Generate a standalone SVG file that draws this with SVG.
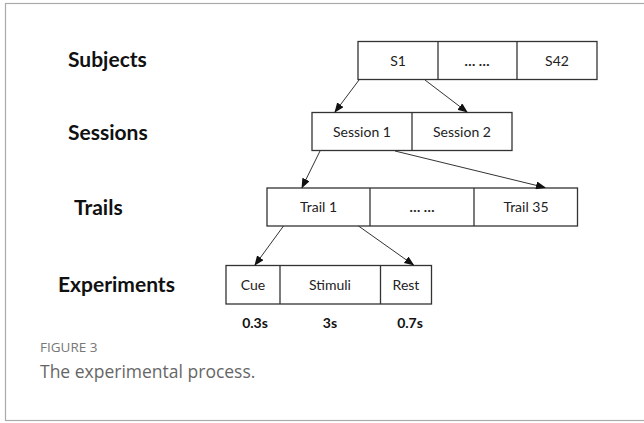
<svg xmlns="http://www.w3.org/2000/svg" width="644" height="423" viewBox="0 0 644 423">
<defs>
<marker id="ah" markerWidth="10" markerHeight="8" refX="9" refY="4" orient="auto" markerUnits="userSpaceOnUse">
<path d="M0,0 L10,4 L0,8 Z" fill="#111"/>
</marker>
<style>
.box{fill:#fff;stroke:#333;stroke-width:1.3}
.div{stroke:#333;stroke-width:1.3}
.lbl{font-family:Lato,"Liberation Sans",sans-serif;font-weight:bold;font-size:21px;fill:#111}
.t{font-family:Lato,"Liberation Sans",sans-serif;font-size:14px;fill:#222;text-anchor:middle}
.e{font-family:Lato,"Liberation Sans",sans-serif;font-weight:bold;font-size:14px;fill:#222;text-anchor:middle}
.d{font-family:Lato,"Liberation Sans",sans-serif;font-weight:bold;font-size:14px;fill:#111;text-anchor:middle}
.con{stroke:#333;stroke-width:1;fill:none;marker-end:url(#ah)}
.cap1{font-family:"Open Sans","Noto Sans",sans-serif;font-size:13.5px;fill:#777}
.cap2{font-family:"Open Sans","Noto Sans",sans-serif;font-size:17.5px;fill:#666}
</style>
</defs>
<rect x="5.5" y="3.5" width="660" height="417" fill="#fff" stroke="#aaa" stroke-width="1.2"/>
<g id="label-subjects"><text class="lbl" x="68" y="67">Subjects</text></g>
<g id="label-sessions"><text class="lbl" x="68" y="140">Sessions</text></g>
<g id="label-trails"><text class="lbl" x="74" y="215">Trails</text></g>
<g id="label-experiments"><text class="lbl" x="58" y="292">Experiments</text></g>
<g id="subjects">
<rect class="box" x="358" y="41.5" width="239" height="38"/>
<line class="div" x1="438" y1="41.5" x2="438" y2="79.5"/>
<line class="div" x1="517" y1="41.5" x2="517" y2="79.5"/>
<text class="t" x="398" y="65.5">S1</text>
<text class="e" x="477" y="65.5">… …</text>
<text class="t" x="557" y="65.5">S42</text>
</g>
<g id="sessions">
<rect class="box" x="312" y="112.5" width="200" height="38"/>
<line class="div" x1="412" y1="112.5" x2="412" y2="150.5"/>
<text class="t" x="362" y="136.5">Session 1</text>
<text class="t" x="462" y="136.5">Session 2</text>
</g>
<g id="trails">
<rect class="box" x="267" y="188" width="310.5" height="38"/>
<line class="div" x1="370" y1="188" x2="370" y2="226"/>
<line class="div" x1="474" y1="188" x2="474" y2="226"/>
<text class="t" x="318.5" y="212">Trail 1</text>
<text class="e" x="422" y="212">… …</text>
<text class="t" x="526" y="212">Trail 35</text>
</g>
<g id="experiments">
<rect class="box" x="226" y="265.5" width="205.5" height="38.5"/>
<line class="div" x1="280" y1="265.5" x2="280" y2="304"/>
<line class="div" x1="380.5" y1="265.5" x2="380.5" y2="304"/>
<text class="t" x="253" y="289.5">Cue</text>
<text class="t" x="330" y="289.5">Stimuli</text>
<text class="t" x="406" y="289.5">Rest</text>
</g>
<g id="durations">
<text class="d" x="255" y="328">0.3s</text>
<text class="d" x="330" y="328">3s</text>
<text class="d" x="410" y="328">0.7s</text>
</g>
<g id="connectors">
<line class="con" x1="359" y1="80" x2="335" y2="112"/>
<line class="con" x1="425" y1="80" x2="467" y2="112"/>
<line class="con" x1="320" y1="151" x2="302" y2="187.5"/>
<line class="con" x1="395" y1="151" x2="545" y2="187.5"/>
<line class="con" x1="283.5" y1="226" x2="255" y2="265"/>
<line class="con" x1="358.5" y1="226" x2="413.5" y2="265"/>
</g>
<g id="caption">
<text class="cap1" x="40" y="352">FIGURE 3</text>
<text class="cap2" x="40" y="378">The experimental process.</text>
</g>
</svg>
